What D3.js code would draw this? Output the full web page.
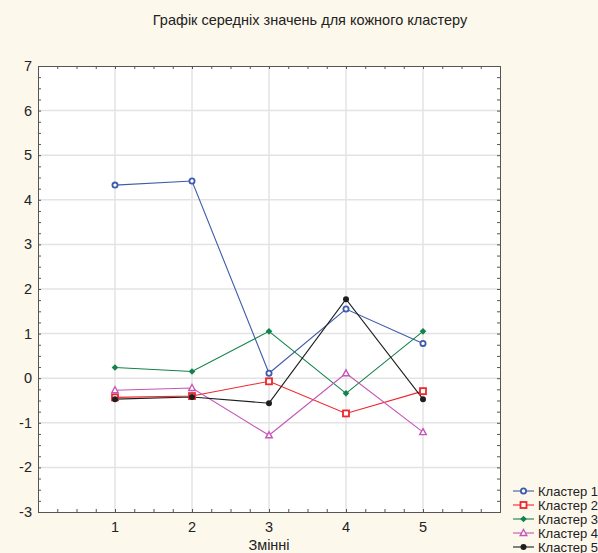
<!DOCTYPE html>
<html>
<head>
<meta charset="utf-8">
<script src="https://cdn.jsdelivr.net/npm/d3@7"></script>
<style>
  body { margin: 0; background: #fdf8ec; }
  text { font-family: "Liberation Sans", Arial, sans-serif; fill: #222; }
</style>
</head>
<body>
<div id="chart"></div>
<script>
// Data
const variables = [1, 2, 3, 4, 5];
const clusterNames = ["Кластер 1", "Кластер 2", "Кластер 3", "Кластер 4", "Кластер 5"];
const cluster1 = [4.33, 4.42, 0.11, 1.55, 0.78];
const cluster2 = [-0.43, -0.40, -0.07, -0.79, -0.29];
const cluster3 = [0.24, 0.15, 1.05, -0.34, 1.05];
const cluster4 = [-0.27, -0.22, -1.28, 0.11, -1.21];
const cluster5 = [-0.47, -0.42, -0.56, 1.77, -0.47];
const yTicks = [-3, -2, -1, 0, 1, 2, 3, 4, 5, 6, 7];

const seriesValues = [cluster1, cluster2, cluster3, cluster4, cluster5];
const colors = ["#3f5bab", "#f0262b", "#12834a", "#c457b6", "#1e1e1e"];
const shapes = ["circle", "square", "diamond", "triangle", "dot"];

var W = 598, H = 553;
var margin = {top: 66, right: 98, bottom: 41, left: 38},
    width = W - margin.left - margin.right,
    height = H - margin.top - margin.bottom;

const svgRoot = d3.select("#chart").append("svg")
    .attr("width", W)
    .attr("height", H);

svgRoot.append("rect").attr("width", W).attr("height", H).attr("fill", "#fdf8ec");

// Title
svgRoot.append("text")
    .attr("x", 310).attr("y", 25)
    .attr("text-anchor", "middle")
    .style("font-size", "14.5px")
    .text("Графік середніх значень для кожного кластеру");

const svg = svgRoot.append("g")
    .attr("transform", `translate(${margin.left},${margin.top})`);

const x = d3.scaleLinear().domain([0, 6]).range([0, width]);
const y = d3.scaleLinear().domain([-3, 7]).range([height, 0]);

svg.append("rect")
    .attr("width", width).attr("height", height)
    .attr("fill", "#fff");

// Grid lines
svg.selectAll(".vgrid")
    .data(variables)
    .enter().append("line")
    .attr("x1", d => x(d)).attr("x2", d => x(d))
    .attr("y1", 0).attr("y2", height)
    .attr("stroke", "#e3e3e3").attr("stroke-width", 1.5);

svg.selectAll(".hgrid")
    .data(yTicks.slice(1, -1))
    .enter().append("line")
    .attr("x1", 0).attr("x2", width)
    .attr("y1", d => y(d)).attr("y2", d => y(d))
    .attr("stroke", "#e3e3e3").attr("stroke-width", 1.5);

// Axes (minor ticks inside, every quarter)
const xMinor = d3.range(0, 6.001, 0.25);
const yMinor = d3.range(-3, 7.001, 0.25);

svg.append("g")
    .attr("transform", `translate(0,${height})`)
    .call(d3.axisBottom(x).tickValues(xMinor).tickSize(-3).tickFormat(""))
    .call(g => g.selectAll("line, path").attr("stroke", "#555"));
svg.append("g")
    .call(d3.axisTop(x).tickValues(xMinor).tickSize(-3).tickFormat(""))
    .call(g => g.selectAll("line, path").attr("stroke", "#555"));
svg.append("g")
    .call(d3.axisLeft(y).tickValues(yMinor).tickSize(-3).tickFormat(""))
    .call(g => g.selectAll("line, path").attr("stroke", "#555"));
svg.append("g")
    .attr("transform", `translate(${width},0)`)
    .call(d3.axisRight(y).tickValues(yMinor).tickSize(-3).tickFormat(""))
    .call(g => g.selectAll("line, path").attr("stroke", "#555"));

// Tick labels
svg.selectAll(".xl")
    .data(variables)
    .enter().append("text")
    .attr("x", d => x(d)).attr("y", height + 20)
    .attr("text-anchor", "middle")
    .style("font-size", "14.5px")
    .text(d => d);

svg.selectAll(".yl")
    .data(yTicks)
    .enter().append("text")
    .attr("x", -6).attr("y", d => y(d) + 5)
    .attr("text-anchor", "end")
    .style("font-size", "14.5px")
    .text(d => d);

svgRoot.append("text")
    .attr("x", margin.left + x(3)).attr("y", 550)
    .attr("text-anchor", "middle")
    .style("font-size", "14.5px")
    .text("Змінні");

// Marker drawing
function drawMarker(g, shape, color) {
    if (shape === "circle") {
        g.append("circle").attr("r", 2.6).attr("fill", "#fff")
            .attr("stroke", color).attr("stroke-width", 1.8);
    } else if (shape === "square") {
        g.append("rect").attr("x", -3).attr("y", -3).attr("width", 6).attr("height", 6)
            .attr("fill", "#fff").attr("stroke", color).attr("stroke-width", 1.8);
    } else if (shape === "diamond") {
        g.append("path").attr("d", "M0,-3.3L3.3,0L0,3.3L-3.3,0Z").attr("fill", color);
    } else if (shape === "triangle") {
        g.append("path").attr("d", "M0,-3.5L3.3,2.5L-3.3,2.5Z").attr("fill", "#fff")
            .attr("stroke", color).attr("stroke-width", 1.4);
    } else {
        g.append("circle").attr("r", 3).attr("fill", color);
    }
}

const line = d3.line()
    .x((d, i) => x(variables[i]))
    .y(d => y(d));

seriesValues.forEach((vals, k) => {
    svg.append("path")
        .datum(vals)
        .attr("fill", "none")
        .attr("stroke", colors[k])
        .attr("stroke-width", 1.1)
        .attr("d", line);
});

seriesValues.forEach((vals, k) => {
    vals.forEach((v, i) => {
        const g = svg.append("g").attr("transform", `translate(${x(variables[i])},${y(v)})`);
        drawMarker(g, shapes[k], colors[k]);
    });
});

// Legend in the bottom-right corner, as in the original
const legend = svgRoot.append("g").attr("transform", "translate(513,491)");
clusterNames.forEach((name, k) => {
    const row = legend.append("g").attr("transform", `translate(0,${k * 14})`);
    row.append("line").attr("x1", 0).attr("x2", 21)
        .attr("stroke", colors[k]).attr("stroke-width", 1.1);
    drawMarker(row.append("g").attr("transform", "translate(10.5,0)"), shapes[k], colors[k]);
    row.append("text").attr("x", 25).attr("y", 4.5)
        .style("font-size", "13px")
        .text(name);
});
</script>
</body>
</html>
